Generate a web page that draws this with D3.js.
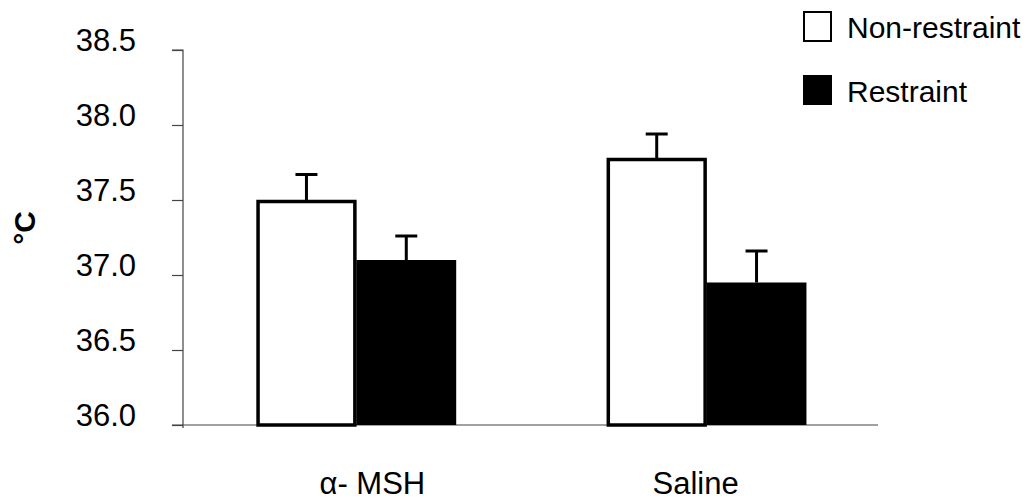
<!DOCTYPE html>
<html>
<head>
<meta charset="utf-8">
<script src="https://cdn.jsdelivr.net/npm/d3@7/dist/d3.min.js"></script>
<style>
  html, body { margin: 0; padding: 0; background: #fff; }
  svg { display: block; font-family: Arial, "Liberation Sans", sans-serif; }
</style>
</head>
<body>
<svg id="chart" width="1034" height="504"></svg>
<script>
// Body temperature (°C) by treatment and restraint condition
const groups = ["α- MSH", "Saline"];
const seriesNames = ["Non-restraint", "Restraint"];
const nonRestraint = [37.49, 37.77];
const nonRestraintSE = [0.18, 0.17];
const restraint = [37.10, 36.95];
const restraintSE = [0.16, 0.21];
const yTicks = [36.0, 36.5, 37.0, 37.5, 38.0, 38.5];

const svg = d3.select("#chart");
const plotLeft = 183, plotRight = 880, plotTop = 50, plotBottom = 425;

const y = d3.scaleLinear().domain([36, 38.5]).range([plotBottom, plotTop]);
const x0 = d3.scaleBand().domain(groups).range([plotLeft, plotRight])
  .paddingInner(0.43).paddingOuter(0.21);
const x1 = d3.scaleBand().domain(seriesNames).range([0, x0.bandwidth()]).padding(0);

const rows = groups.map((g, i) => ({
  group: g,
  bars: [
    { key: "Non-restraint", value: nonRestraint[i], se: nonRestraintSE[i] },
    { key: "Restraint", value: restraint[i], se: restraintSE[i] }
  ]
}));

// Y axis
const yAxis = d3.axisLeft(y).tickValues(yTicks).tickFormat(d3.format(".1f"))
  .tickSize(11).tickPadding(36);
const gy = svg.append("g").attr("transform", `translate(${plotLeft},0)`).call(yAxis);
gy.select(".domain").attr("stroke", "#444").attr("stroke-width", 1.2)
  .attr("d", `M-11,${plotTop}H0V${plotBottom + 3}`);
gy.selectAll(".tick line").attr("stroke", "#444").attr("stroke-width", 1.2);
gy.selectAll(".tick text").attr("font-size", 31).attr("fill", "#000")
  .attr("dy", "0em").attr("y", 0);

// X baseline
svg.append("line")
  .attr("x1", plotLeft - 11).attr("x2", plotRight - 2)
  .attr("y1", plotBottom).attr("y2", plotBottom)
  .attr("stroke", "#444").attr("stroke-width", 1.2);

// Bars
const g = svg.append("g");
const grp = g.selectAll("g.grp").data(rows).join("g")
  .attr("class", "grp")
  .attr("transform", d => `translate(${x0(d.group)},0)`);

// Error bars (upper only)
grp.selectAll("g.err").data(d => d.bars).join("g").attr("class", "err")
  .each(function (d) {
    const cx = x1(d.key) + x1.bandwidth() / 2;
    const s = d3.select(this);
    s.append("line").attr("x1", cx).attr("x2", cx)
      .attr("y1", y(d.value)).attr("y2", y(d.value + d.se))
      .attr("stroke", "#000").attr("stroke-width", 3);
    s.append("line").attr("x1", cx - 11).attr("x2", cx + 11)
      .attr("y1", y(d.value + d.se)).attr("y2", y(d.value + d.se))
      .attr("stroke", "#000").attr("stroke-width", 3);
  });

grp.selectAll("rect").data(d => d.bars).join("rect")
  .attr("x", d => x1(d.key) + (d.key === "Non-restraint" ? 1.5 : 0))
  .attr("width", d => x1.bandwidth() - (d.key === "Non-restraint" ? 3 : 0))
  .attr("y", d => y(d.value))
  .attr("height", d => plotBottom - y(d.value))
  .attr("fill", d => d.key === "Non-restraint" ? "#fff" : "#000")
  .attr("stroke", "#000")
  .attr("stroke-width", d => d.key === "Non-restraint" ? 3.5 : 0);

// Category labels
const labelShift = { "α- MSH": 16, "Saline": -11 };
svg.selectAll("text.cat").data(groups).join("text")
  .attr("class", "cat")
  .attr("x", d => x0(d) + x0.bandwidth() / 2 + labelShift[d])
  .attr("y", 494)
  .attr("text-anchor", "middle")
  .attr("font-size", 31)
  .text(d => d);

// Y axis title
svg.append("text")
  .attr("transform", "translate(35,228) rotate(-90)")
  .attr("text-anchor", "middle")
  .attr("font-size", 30)
  .attr("font-weight", "bold")
  .text("°C");

// Legend
const legend = svg.append("g");
const legendY = [11, 75];
seriesNames.forEach((name, i) => {
  legend.append("rect")
    .attr("x", i === 0 ? 804 : 803).attr("y", legendY[i] + (i === 0 ? 1 : 0))
    .attr("width", i === 0 ? 27 : 29).attr("height", i === 0 ? 29 : 30)
    .attr("fill", i === 0 ? "#fff" : "#000")
    .attr("stroke", "#000").attr("stroke-width", i === 0 ? 2 : 0);
  legend.append("text")
    .attr("x", 847).attr("y", legendY[i] + 27)
    .attr("font-size", 30)
    .text(name);
});
</script>
</body>
</html>
